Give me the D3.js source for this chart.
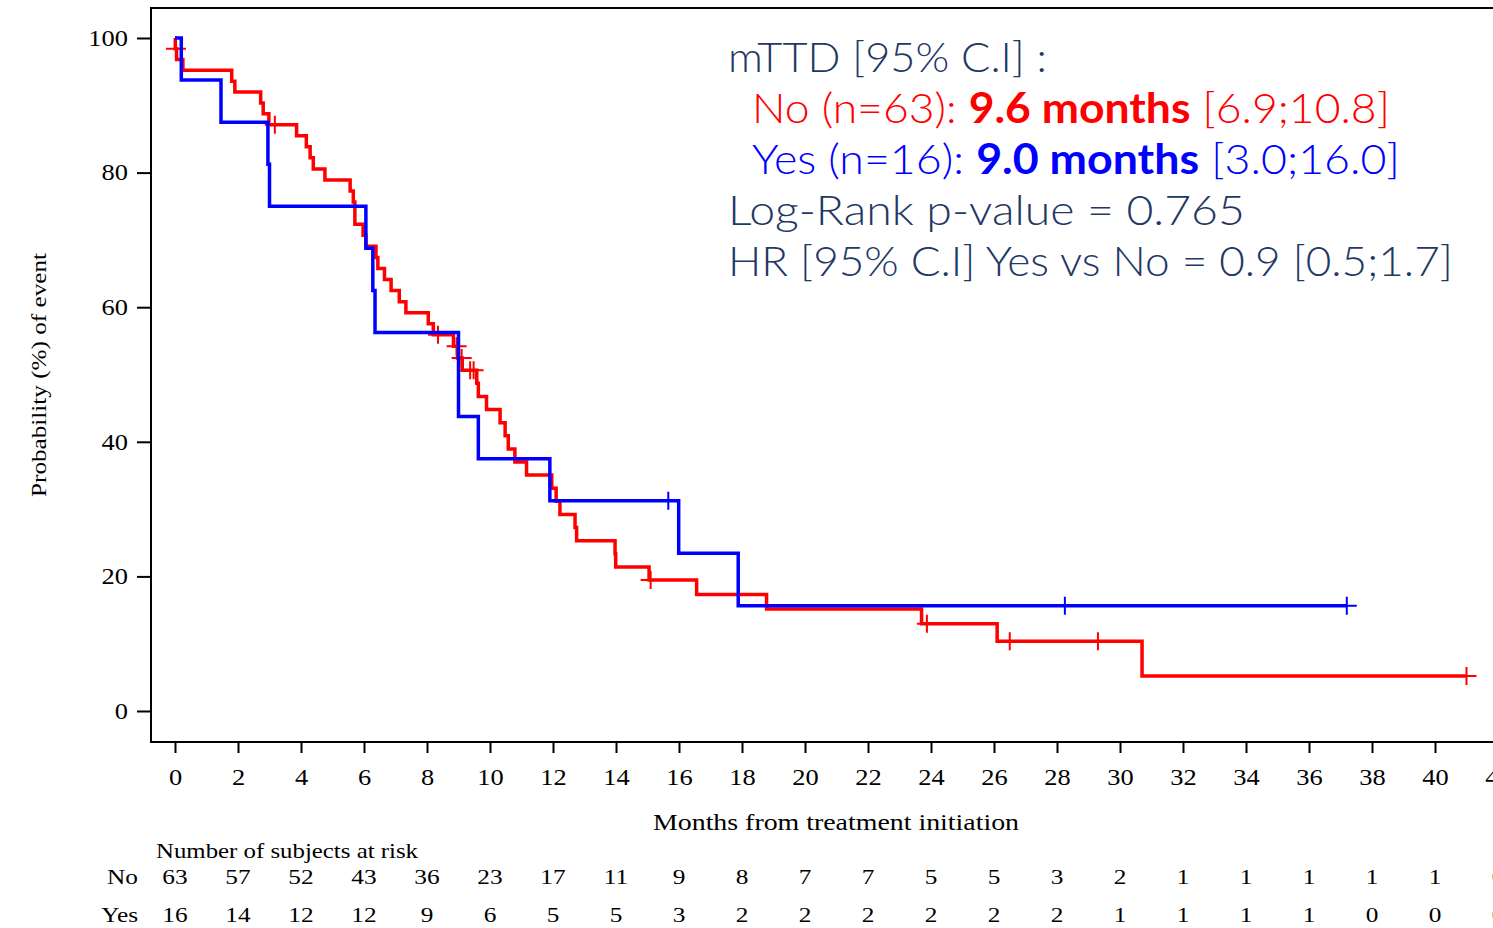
<!DOCTYPE html>
<html><head><meta charset="utf-8">
<script src="https://cdn.jsdelivr.net/npm/d3@7"></script>
<style>body{margin:0;background:#fff;} svg{display:block;background:#fff;}</style>
</head><body><svg id="c" width="1493" height="928"></svg>
<script>
// ---------- data ----------
const noTimes = [0, 0.01, 0.05, 0.25, 1.80, 1.90, 2.72, 2.80, 2.98, 3.86, 4.17, 4.29, 4.39, 4.76, 5.56, 5.66, 5.71, 5.97, 6.06, 6.38, 6.44, 6.65, 6.86, 7.12, 7.33, 8.04, 8.20, 8.84, 8.97, 9.12, 9.58, 9.63, 9.89, 10.32, 10.48, 10.58, 10.79, 11.16, 11.96, 12.10, 12.22, 12.70, 12.75, 13.97, 13.99, 15.05, 16.56, 18.78, 23.70, 26.10, 30.70];
const noSurv  = [100, 98.41, 96.80, 95.19, 93.58, 91.96, 90.35, 88.74, 87.12, 85.48, 83.84, 82.19, 80.55, 78.91, 77.26, 75.62, 72.33, 70.69, 69.04, 67.40, 65.75, 64.11, 62.47, 60.82, 59.18, 57.53, 55.89, 54.20, 52.45, 50.64, 48.69, 46.74, 44.79, 42.84, 40.89, 38.94, 36.99, 35.05, 33.10, 31.15, 29.20, 27.26, 25.31, 23.36, 21.41, 19.47, 17.30, 15.14, 12.98, 10.38, 5.19];
const noLastFollowUp = 41.0;
const noCensorTimes = [0.03, 3.17, 8.35, 8.94, 9.10, 9.37, 9.48, 15.10, 23.87, 26.50, 29.30, 41.0];
const noCensorSurv  = [98.41, 87.12, 55.89, 54.20, 52.45, 50.64, 50.64, 19.47, 12.98, 10.38, 10.38, 5.19];

const yesTimes = [0, 0.20, 1.46, 2.95, 3.00, 6.06, 6.28, 6.35, 9.00, 9.63, 11.90, 15.99, 17.88];
const yesSurv  = [100, 93.75, 87.5, 81.25, 75, 68.75, 62.5, 56.25, 43.75, 37.5, 31.25, 23.44, 15.63];
const yesLastFollowUp = 37.2;
const yesCensorTimes = [15.66, 28.25, 37.2];
const yesCensorSurv  = [31.25, 15.63, 15.63];

const xTickValues = [0,2,4,6,8,10,12,14,16,18,20,22,24,26,28,30,32,34,36,38,40,42];
const yTickValues = [0,20,40,60,80,100];
const riskNo  = [63,57,52,43,36,23,17,11,9,8,7,7,5,5,3,2,1,1,1,1,1,0];
const riskYes = [16,14,12,12,9,6,5,5,3,2,2,2,2,2,2,1,1,1,1,0,0,0];

// ---------- layout ----------
const W = 1493, H = 928;
const frameL = 151, frameT = 8, frameB = 742;
const RED = "#ff0000", BLUE = "#0000ff", NAVY = "#1f3864";
const SERIF = "'Liberation Serif','Times New Roman',serif";
const SANS = "Lato,'Open Sans',sans-serif";
const STRETCH = 1.15;

const svg = d3.select("#c");
const x = d3.scaleLinear().domain([0, 40]).range([175, 1435]);
const y = d3.scaleLinear().domain([0, 100]).range([711, 38]);

// frame
svg.append("path")
  .attr("d", `M${W+20},${frameT} H${frameL} V${frameB} H${W+20}`)
  .attr("fill", "none").attr("stroke", "#000").attr("stroke-width", 2);

// axes
const gx = svg.append("g").attr("transform", `translate(0,${frameB})`)
  .call(d3.axisBottom(x).tickValues(xTickValues).tickSize(11).tickPadding(16).tickSizeOuter(0));
gx.select(".domain").remove();
gx.selectAll(".tick line").attr("stroke", "#000").attr("stroke-width", 2);
gx.selectAll(".tick text").attr("font-family", SERIF).attr("font-size", 23).attr("fill", "#000")
  .attr("transform", `scale(${STRETCH},1)`);

const gy = svg.append("g").attr("transform", `translate(${frameL},0)`)
  .call(d3.axisLeft(y).tickValues(yTickValues).tickSize(14).tickPadding(9).tickSizeOuter(0));
gy.select(".domain").remove();
gy.selectAll(".tick line").attr("stroke", "#000").attr("stroke-width", 2);
gy.selectAll(".tick text").attr("font-family", SERIF).attr("font-size", 23).attr("fill", "#000")
  .attr("x", -23 / STRETCH).attr("transform", `scale(${STRETCH},1)`);

// axis titles
svg.append("text").attr("x", 836).attr("y", 830).attr("text-anchor", "middle")
  .attr("font-family", SERIF).attr("font-size", 24).attr("fill", "#000")
  .attr("textLength", 366).attr("lengthAdjust", "spacingAndGlyphs")
  .text("Months from treatment initiation");
svg.append("text").attr("transform", "translate(46,375) rotate(-90)").attr("text-anchor", "middle")
  .attr("font-family", SERIF).attr("font-size", 22).attr("fill", "#000")
  .attr("textLength", 244).attr("lengthAdjust", "spacingAndGlyphs")
  .text("Probability (%) of event");

// curves
const line = d3.line().x(d => x(d[0])).y(d => y(d[1])).curve(d3.curveStepAfter);
function series(times, surv, last) {
  const pts = times.map((t, i) => [t, surv[i]]);
  pts.push([last, surv[surv.length - 1]]);
  return pts;
}
function censorPath(times, surv) {
  return times.map((t, i) => {
    const px = x(t), py = y(surv[i]);
    return `M${px-10},${py}h20M${px},${py-9}v18`;
  }).join("");
}
svg.append("path").attr("d", line(series(noTimes, noSurv, noLastFollowUp)))
  .attr("fill", "none").attr("stroke", RED).attr("stroke-width", 3.5);
svg.append("path").attr("d", censorPath(noCensorTimes, noCensorSurv))
  .attr("fill", "none").attr("stroke", RED).attr("stroke-width", 2);
svg.append("path").attr("d", line(series(yesTimes, yesSurv, yesLastFollowUp)))
  .attr("fill", "none").attr("stroke", BLUE).attr("stroke-width", 3.5);
svg.append("path").attr("d", censorPath(yesCensorTimes, yesCensorSurv))
  .attr("fill", "none").attr("stroke", BLUE).attr("stroke-width", 2);

// annotation
function fitLine(sel, left, width) {
  const bb = sel.node().getBBox();
  const sx = width / bb.width;
  sel.attr("transform", `translate(${left},0) scale(${sx},1) translate(${-bb.x},0)`);
}
const annFont = 42;
const annLines = [
  {left: 728, width: 319, base: 72.5, parts: [["mTTD [95% C.I] :", NAVY, 300]]},
  {left: 752, width: 638, base: 123.5, parts: [["No (n=63): ", RED, 300], ["9.6 months", RED, 700], [" [6.9;10.8]", RED, 300]]},
  {left: 752, width: 648, base: 174.5, parts: [["Yes (n=16): ", BLUE, 300], ["9.0 months", BLUE, 700], [" [3.0;16.0]", BLUE, 300]]},
  {left: 728, width: 517, base: 225.5, parts: [["Log-Rank p-value = 0.765", NAVY, 300]]},
  {left: 728, width: 725, base: 276.5, parts: [["HR [95% C.I] Yes vs No = 0.9 [0.5;1.7]", NAVY, 300]]}
];
annLines.forEach(L => {
  const t = svg.append("text").attr("x", 0).attr("y", L.base)
    .attr("font-family", SANS).attr("font-size", annFont).attr("xml:space", "preserve")
    .style("white-space", "pre");
  L.parts.forEach(p => t.append("tspan").attr("fill", p[1]).attr("font-weight", p[2]).text(p[0]));
  fitLine(t, L.left, L.width);
});

// risk table
svg.append("text").attr("x", 156).attr("y", 858)
  .attr("font-family", SERIF).attr("font-size", 22).attr("fill", "#000")
  .attr("textLength", 262).attr("lengthAdjust", "spacingAndGlyphs")
  .text("Number of subjects at risk");
const rows = [["No", riskNo, 884], ["Yes", riskYes, 922]];
rows.forEach(([label, vals, base]) => {
  svg.append("text").attr("transform", `translate(138,${base}) scale(${STRETCH},1)`)
    .attr("text-anchor", "end").attr("font-family", SERIF).attr("font-size", 22).attr("fill", "#000")
    .text(label);
  svg.append("g").selectAll("text").data(vals).join("text")
    .attr("transform", (d, i) => `translate(${x(xTickValues[i])},${base}) scale(${STRETCH},1)`)
    .attr("text-anchor", "middle").attr("font-family", SERIF).attr("font-size", 22).attr("fill", "#000")
    .text(d => d);
});
</script>
</body></html>
